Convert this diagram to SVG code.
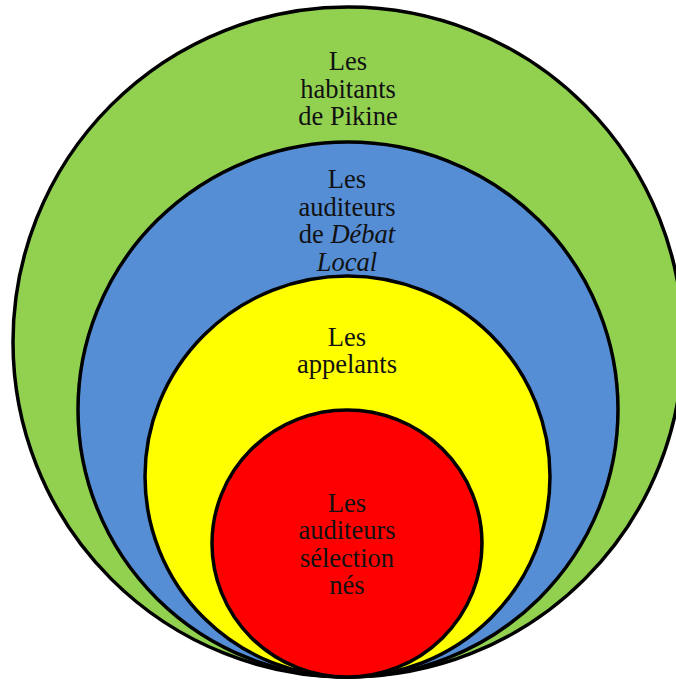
<svg xmlns="http://www.w3.org/2000/svg" width="676" height="681" viewBox="0 0 676 681">
<style>
.ring{stroke:#000;stroke-width:3.5}
.lbl{font-family:"Liberation Serif","Times New Roman",serif;font-size:26.5px;fill:#111;text-anchor:middle}
.it{font-style:italic}
</style>
<rect width="676" height="681" fill="#fff"/>
<g id="habitants">
<ellipse class="ring" cx="348" cy="342" rx="335" ry="335" fill="#92D050"/>
<text class="lbl" x="348" y="70">Les</text>
<text class="lbl" x="348" y="98">habitants</text>
<text class="lbl" x="348" y="125">de Pikine</text>
</g>
<g id="auditeurs">
<ellipse class="ring" cx="348" cy="409.5" rx="270" ry="267.5" fill="#558ED5"/>
<text class="lbl" x="347" y="188">Les</text>
<text class="lbl" x="347" y="216">auditeurs</text>
<text class="lbl" x="347" y="243">de <tspan class="it">Débat</tspan></text>
<text class="lbl it" x="347" y="271">Local</text>
</g>
<g id="appelants">
<ellipse class="ring" cx="347.5" cy="476.5" rx="202.5" ry="200.5" fill="#FFFF00"/>
<text class="lbl" x="347" y="346">Les</text>
<text class="lbl" x="347" y="373">appelants</text>
</g>
<g id="selectionnes">
<ellipse class="ring" cx="347" cy="543.5" rx="135" ry="133.5" fill="#FF0000"/>
<text class="lbl" x="347" y="512">Les</text>
<text class="lbl" x="347" y="539">auditeurs</text>
<text class="lbl" x="347" y="567">sélection</text>
<text class="lbl" x="347" y="594">nés</text>
</g>
<g id="connectors"/>
</svg>
